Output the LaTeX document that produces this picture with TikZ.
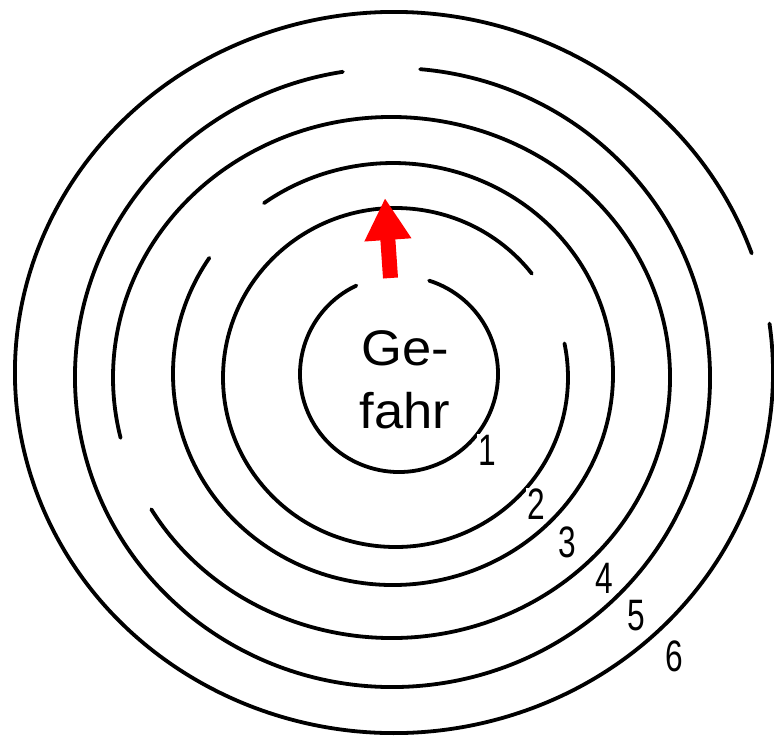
\documentclass[tikz,border=0pt]{standalone}
\usepackage{fontspec}
\setmainfont{Liberation Sans}
\usetikzlibrary{arrows.meta}

\begin{document}
\begin{tikzpicture}[
  x=0.5pt, y=0.5pt,
  wall/.style={line width=1.9pt, line cap=round},
  num/.style={fill=white, inner sep=0.5pt, font=\fontsize{22}{24}\selectfont},
  danger/.style={align=center, inner sep=0pt, font=\fontsize{25}{31.5}\selectfont},
  arrow/.style={-{Triangle[width=22pt,length=21pt]}, red, line width=7.5pt}
]
\useasboundingbox (0,0) rectangle (774,736);
% rings, inside to outside
\draw[wall] (399,362) ++(115.5:99 and 98) arc[start angle=115.5, end angle=432.3, x radius=99, y radius=98];
\draw[wall] (395.5,358.5) ++(37.8:172.5 and 169.5) arc[start angle=37.8, end angle=371.6, x radius=172.5, y radius=169.5];
\draw[wall] (393,362) ++(146.6:220 and 211) arc[start angle=146.6, end angle=485.9, x radius=220, y radius=211];
\draw[wall] (391.5,358.5) ++(210.4:278.5 and 260.5) arc[start angle=210.4, end angle=553.4, x radius=278.5, y radius=260.5];
\draw[wall] (392.5,358.5) ++(99:317.5 and 309.5) arc[start angle=99, end angle=445, x radius=317.5, y radius=309.5];
\draw[wall] (394,363.5) ++(19.3:379 and 360.5) arc[start angle=19.3, end angle=367.8, x radius=379, y radius=360.5];
% ring numbers
\node[num] (n1) at (487,286) {\scalebox{0.72}[1]{1}};
\node[num] (n2) at (536,232) {\scalebox{0.72}[1]{2}};
\node[num] (n3) at (567,194) {\scalebox{0.72}[1]{3}};
\node[num] (n4) at (604,158) {\scalebox{0.72}[1]{4}};
\node[num] (n5) at (636,120) {\scalebox{0.72}[1]{5}};
\node[num] (n6) at (674,80) {\scalebox{0.72}[1]{6}};
% centre
\node[danger] (danger) at (405,356) {\scalebox{1.05}[1]{Ge-}\\\scalebox{1.05}[1]{fahr}};
\coordinate (arrowfoot) at (390.5,458);
\coordinate (arrowtip) at (385,538);
\draw[arrow] (arrowfoot) -- (arrowtip);
\end{tikzpicture}
\end{document}
